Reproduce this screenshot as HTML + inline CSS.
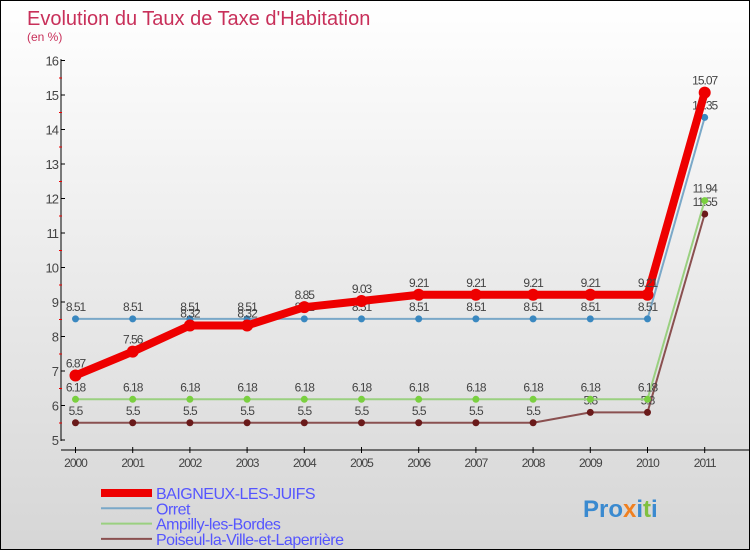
<!DOCTYPE html>
<html><head><meta charset="utf-8"><style>
body{margin:0}
#c{width:748px;height:548px;border:1px solid #000;background:linear-gradient(#fff,#d6d6d6);position:relative;font-family:"Liberation Sans",sans-serif}
</style></head><body>
<div id="c">
<svg id="s" width="748" height="548">
<text x="26" y="24" font-size="20" fill="#c8305a">Evolution du Taux de Taxe d'Habitation</text>
<text x="26" y="40" font-size="12" fill="#c8305a">(en %)</text>
<g id="g"></g>
<text x="582" y="516" font-size="24" font-weight="bold"><tspan fill="#3a8ad0">Pro</tspan><tspan fill="#f08020">x</tspan><tspan fill="#3a8ad0">i</tspan><tspan fill="#80c040">t</tspan><tspan fill="#3a8ad0">i</tspan></text>
</svg>
</div>
<script>
const years=["2000","2001","2002","2003","2004","2005","2006","2007","2008","2009","2010","2011"];
const yTicks=[5,6,7,8,9,10,11,12,13,14,15,16];
const baigneux=[6.87,7.56,8.32,8.32,8.85,9.03,9.21,9.21,9.21,9.21,9.21,15.07];
const orret=[8.51,8.51,8.51,8.51,8.51,8.51,8.51,8.51,8.51,8.51,8.51,14.35];
const ampilly=[6.18,6.18,6.18,6.18,6.18,6.18,6.18,6.18,6.18,6.18,6.18,11.94];
const poiseul=[5.5,5.5,5.5,5.5,5.5,5.5,5.5,5.5,5.5,5.8,5.8,11.55];
const seriesNames=["BAIGNEUX-LES-JUIFS","Orret","Ampilly-les-Bordes","Poiseul-la-Ville-et-Laperrière"];
const NS="http://www.w3.org/2000/svg",g=document.getElementById('g');
const X=i=>74.5+i*57.2, Y=v=>439-(v-5)*34.5;
function el(t,a,p){const e=document.createElementNS(NS,t);for(const k in a)e.setAttribute(k,a[k]);(p||g).appendChild(e);return e;}
let ax=el('line',{x1:60,y1:58,x2:60,y2:440,stroke:'#000'});

let xa=el('line',{x1:60,y1:449,x2:748,y2:449,stroke:'#000'});

yTicks.forEach(v=>{const y=Y(v);
 el('line',{x1:60,y1:y,x2:64,y2:y,stroke:'#000'});
 if(v<16)el('line',{x1:58,y1:y-17,x2:61,y2:y-17,stroke:'#e00'});
 const t=el('text',{x:57,y:y+5,'font-size':13,fill:'#444','text-anchor':'end','letter-spacing':'-1'});t.textContent=v;
 });
years.forEach((yr,i)=>{const x=X(i);
 el('line',{x1:x,y1:446,x2:x,y2:452,stroke:'#000'});
 const t=el('text',{x:x,y:466,'font-size':12,fill:'#444','text-anchor':'middle','letter-spacing':'-1'});t.textContent=yr;
 });
function series(d,col,w,r,name,dot){
 const p=el('polyline',{points:d.map((v,i)=>X(i)+','+Y(v)).join(' '),fill:'none',stroke:col,'stroke-width':w,'stroke-linejoin':'round'});
 
 d.forEach((v,i)=>{const c=el('circle',{cx:X(i),cy:Y(v),r:r,fill:dot});
  
  const t=el('text',{x:X(i),y:Y(v)-8,'font-size':12,fill:'#444','text-anchor':'middle','letter-spacing':'-1'});t.textContent=v;
  });
}
series(poiseul,'#8a5050',2,3.5,'poiseul','#6a1a1a');
series(ampilly,'#9ad080',2,3.5,'ampilly','#7ad040');
series(orret,'#7aa8c8',2,3.5,'orret','#3a88c0');
series(baigneux,'#e00',8,6,'baigneux','#e00');
const lc=['#e00','#7aa8c8','#9ad080','#8a5050'],lw=[8,2,2,2];
seriesNames.forEach((n,i)=>{const y=492+i*15.3;
 const l=el('line',{x1:100,y1:y,x2:151,y2:y,stroke:lc[i],'stroke-width':lw[i]});
 
 const t=el('text',{x:155,y:y+6,'font-size':16,fill:'#55f','letter-spacing':'-0.5'});t.textContent=n;
 });
</script>
</body></html>
